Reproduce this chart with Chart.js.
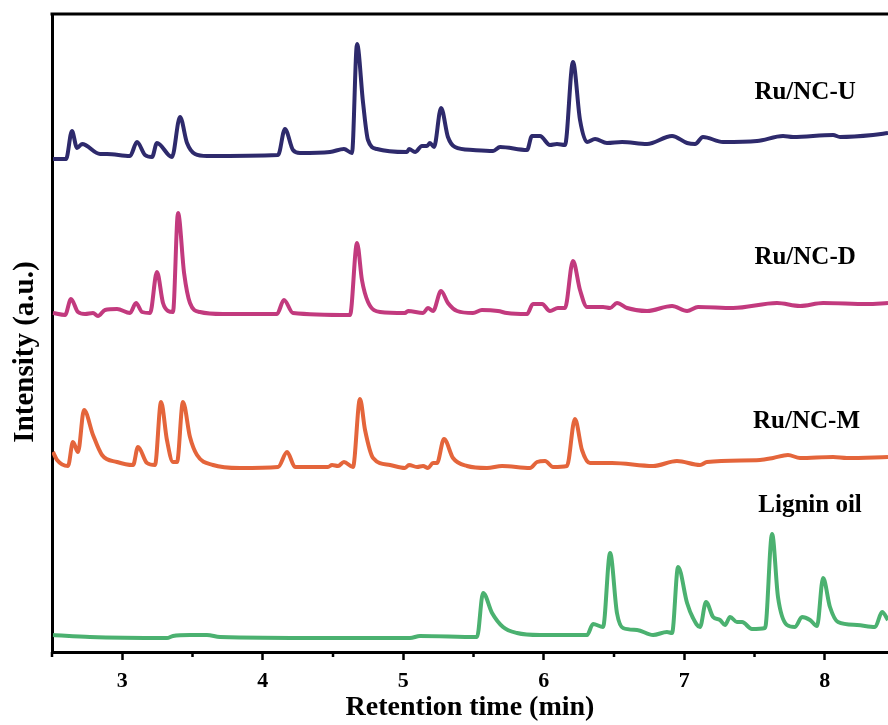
<!DOCTYPE html>
<html lang="en">
<head>
<meta charset="UTF-8">
<script src="https://cdn.jsdelivr.net/npm/chart.js"></script>
<style>
    body { margin: 0; background: #fff; }
    #wrap { width: 888px; height: 725px; }
</style>
</head>
<body>
<div id="wrap"><canvas id="gc" width="888" height="725"></canvas></div>
<script>
// retention time (min) and intensity (a.u.)
const timeU = [2.507, 2.600, 2.642, 2.678, 2.714, 2.842, 2.891, 3.055, 3.105, 3.162, 3.212, 3.247, 3.354, 3.411, 3.461, 3.518, 3.603,
    4.109, 4.158, 4.215, 4.265, 4.479, 4.578, 4.635, 4.671, 4.714, 4.749, 4.813, 5.027, 5.041, 5.084, 5.133, 5.169, 5.190, 5.219,
    5.269, 5.318, 5.368, 5.496, 5.639, 5.689, 5.881, 5.916, 5.973, 6.044, 6.094, 6.151, 6.208, 6.258, 6.308, 6.365, 6.450, 6.557,
    6.735, 6.913, 7.020, 7.077, 7.133, 7.276, 7.518, 7.703, 7.774, 8.059, 8.109, 8.343, 8.450];
const ruNcU = [493, 493, 521, 504, 508, 498, 498, 496, 510, 497, 495, 509, 495, 535, 509, 498, 496,
    497, 523, 502, 499, 500, 503, 499, 608, 549, 512, 503, 500, 503, 500, 506, 506, 509, 505,
    544, 515, 505, 502, 501, 505, 502, 516, 516, 507, 508, 507, 590, 532, 510, 513, 509, 510,
    508, 516, 509, 508, 515, 510, 511, 516, 515, 517, 515, 517, 519];

const timeD = [2.507, 2.593, 2.635, 2.685, 2.735, 2.792, 2.827, 2.877, 2.963, 3.055, 3.098, 3.141, 3.198, 3.247, 3.290, 3.326, 3.361,
    3.397, 3.440, 3.482, 3.553, 3.717, 4.101, 4.151, 4.215, 4.621, 4.671, 4.706, 4.749, 4.835, 5.012, 5.034, 5.141, 5.176, 5.212,
    5.269, 5.318, 5.383, 5.496, 5.560, 5.674, 5.738, 5.881, 5.923, 5.988, 6.044, 6.101, 6.151, 6.208, 6.258, 6.308, 6.422, 6.472,
    6.521, 6.593, 6.735, 6.913, 7.020, 7.098, 7.347, 7.660, 7.824, 7.988, 8.301, 8.450];
const ruNcD = [339, 337, 353, 340, 338, 339, 336, 342, 343, 339, 349, 340, 339, 380, 349, 341, 340,
    439, 379, 349, 340, 338, 338, 352, 339, 337, 409, 372, 350, 340, 339, 341, 339, 344, 341,
    361, 349, 341, 339, 342, 341, 339, 338, 348, 348, 341, 344, 344, 391, 362, 345, 345, 344,
    349, 344, 341, 346, 341, 345, 344, 349, 346, 349, 348, 349];

const timeM = [2.507, 2.536, 2.614, 2.649, 2.685, 2.728, 2.792, 2.856, 2.963, 3.077, 3.112, 3.176, 3.233, 3.276, 3.318, 3.361, 3.390,
    3.432, 3.482, 3.532, 3.646, 3.838, 4.109, 4.173, 4.230, 4.464, 4.493, 4.536, 4.578, 4.642, 4.692, 4.728, 4.785, 4.906, 5.012,
    5.041, 5.098, 5.141, 5.176, 5.212, 5.240, 5.290, 5.354, 5.454, 5.596, 5.703, 5.902, 5.952, 6.009, 6.066, 6.165, 6.222, 6.272,
    6.329, 6.486, 6.778, 6.948, 7.112, 7.162, 7.539, 7.632, 7.738, 7.824, 8.059, 8.158, 8.450];
const ruNcM = [200, 192, 186, 210, 200, 242, 217, 197, 190, 187, 205, 189, 187, 250, 212, 190, 190,
    250, 215, 197, 187, 184, 185, 200, 185, 185, 187, 186, 190, 185, 253, 222, 194, 187, 184,
    187, 185, 186, 184, 189, 189, 213, 194, 186, 184, 186, 184, 190, 191, 185, 186, 233, 202,
    189, 189, 186, 191, 187, 190, 192, 194, 197, 194, 195, 194, 195];

const timeL = [2.507, 2.770, 3.318, 3.361, 3.482, 3.603, 3.696, 4.429, 5.048, 5.119, 5.525, 5.568, 5.632, 5.710, 5.810, 5.973,
    6.308, 6.351, 6.422, 6.472, 6.521, 6.564, 6.664, 6.778, 6.877, 6.913, 6.956, 7.020, 7.062, 7.112, 7.155, 7.205, 7.254,
    7.290, 7.326, 7.375, 7.411, 7.482, 7.575, 7.625, 7.667, 7.731, 7.788, 7.838, 7.895, 7.945, 7.988, 8.037, 8.094, 8.230,
    8.358, 8.408, 8.450];
const ligninOil = [17, 15, 14, 16, 17, 17, 15, 14, 14, 16, 15, 59, 39, 25, 19, 17,
    17, 28, 25, 99, 39, 24, 22, 17, 20, 19, 85, 49, 34, 25, 50, 35, 32,
    27, 35, 30, 30, 23, 24, 118, 55, 27, 25, 35, 32, 26, 74, 45, 30, 27,
    25, 40, 32];

const xTicks = [3, 4, 5, 6, 7, 8];

const pts = (xs, ys) => xs.map((x, i) => ({ x: x, y: ys[i] }));
const serif = "'Liberation Serif', 'Times New Roman', serif";

const series = [
    { label: 'Ru/NC-U', data: pts(timeU, ruNcU), color: '#2e2a6c', tag: [7.86, 559] },
    { label: 'Ru/NC-D', data: pts(timeD, ruNcD), color: '#c23a7e', tag: [7.86, 394] },
    { label: 'Ru/NC-M', data: pts(timeM, ruNcM), color: '#e4653b', tag: [7.87, 230] },
    { label: 'Lignin oil', data: pts(timeL, ligninOil), color: '#4bb170', tag: [7.895, 146] }
];

// frame top line, minor ticks, curve names and the y title
const decor = {
    id: 'decor',
    afterDraw(chart) {
        const { ctx, chartArea: a, scales: { x, y } } = chart;
        ctx.save();
        ctx.strokeStyle = '#000';
        ctx.lineWidth = 3;
        ctx.beginPath();
        ctx.moveTo(a.left - 1.5, a.top);
        ctx.lineTo(a.right, a.top);
        ctx.stroke();

        ctx.lineWidth = 2.5;
        for (let v = 2.5; v < x.max; v += 1) {
            const px = x.getPixelForValue(v);
            ctx.beginPath();
            ctx.moveTo(px, a.bottom);
            ctx.lineTo(px, a.bottom + 5);
            ctx.stroke();
        }

        ctx.fillStyle = '#000';
        ctx.font = 'bold 25px ' + serif;
        ctx.textAlign = 'center';
        ctx.textBaseline = 'middle';
        series.forEach(s => {
            ctx.fillText(s.label, x.getPixelForValue(s.tag[0]), y.getPixelForValue(s.tag[1]));
        });

        ctx.font = 'bold 29px ' + serif;
        ctx.translate(26, 352);
        ctx.rotate(-Math.PI / 2);
        ctx.fillText('Intensity (a.u.)', 0, 0);
        ctx.restore();
    }
};

new Chart(document.getElementById('gc'), {
    type: 'line',
    data: {
        datasets: series.map(s => ({
            label: s.label,
            data: s.data,
            borderColor: s.color,
            backgroundColor: s.color,
            borderWidth: 4,
            pointRadius: 0,
            cubicInterpolationMode: 'monotone',
            fill: false
        }))
    },
    options: {
        responsive: false,
        animation: false,
        layout: { padding: { top: 14, right: 0, left: 0, bottom: 0 } },
        plugins: { legend: { display: false }, tooltip: { enabled: false } },
        scales: {
            x: {
                type: 'linear',
                min: 2.5,
                max: 8.45,
                afterFit: s => { s.height = 73; },
                border: { display: true, color: '#000', width: 3 },
                grid: {
                    display: true,
                    drawOnChartArea: false,
                    drawTicks: true,
                    tickLength: 8,
                    tickWidth: 2.5,
                    tickColor: c => (c.tick && xTicks.some(t => Math.abs(t - c.tick.value) < 1e-6)) ? '#000' : 'rgba(0,0,0,0)'
                },
                ticks: {
                    stepSize: 0.5,
                    includeBounds: false,
                    autoSkip: false,
                    maxRotation: 0,
                    padding: 8,
                    color: '#000',
                    font: { family: serif, size: 22, weight: 'bold' },
                    callback: v => xTicks.some(t => Math.abs(t - v) < 1e-6) ? String(Math.round(v)) : ''
                },
                title: {
                    display: true,
                    text: 'Retention time (min)',
                    color: '#000',
                    padding: { top: 0, bottom: 0 },
                    font: { family: serif, size: 28, weight: 'bold' }
                }
            },
            y: {
                min: 0,
                max: 638,
                afterFit: s => { s.width = 52; },
                border: { display: true, color: '#000', width: 3 },
                grid: { display: false },
                ticks: { display: false }
            }
        }
    },
    plugins: [decor]
});
</script>
</body>
</html>
